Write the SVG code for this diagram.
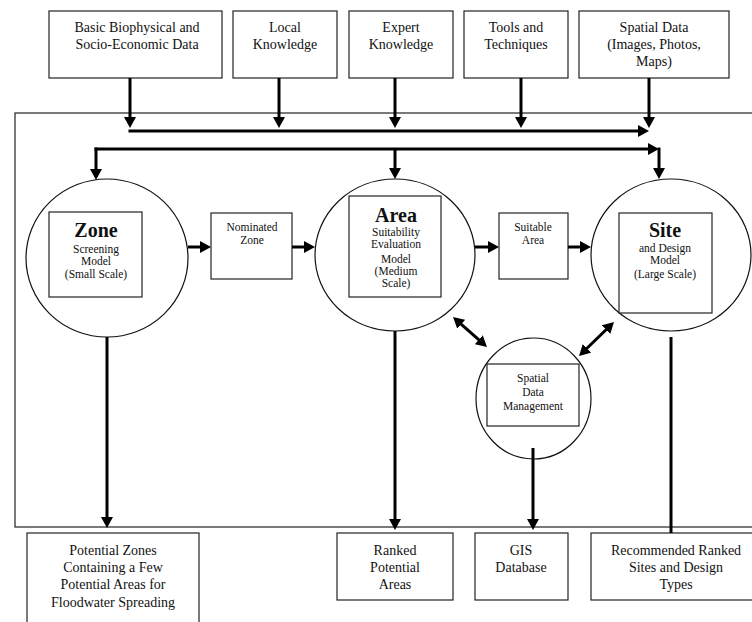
<svg xmlns="http://www.w3.org/2000/svg" width="752" height="622" viewBox="0 0 752 622">
<defs>
<style>
.box{fill:#fff;stroke:#222;stroke-width:1.2}
.circ{fill:#fff;stroke:#111;stroke-width:1.2}
.thin{fill:none;stroke:#222;stroke-width:1.2}
.arr{fill:none;stroke:#000;stroke-width:3;marker-end:url(#ah)}
.dbl{fill:none;stroke:#000;stroke-width:3;marker-start:url(#ah);marker-end:url(#ah)}
.ln{fill:none;stroke:#000;stroke-width:3}
text{font-family:"Liberation Serif","Times New Roman",serif;fill:#111;text-anchor:middle}
.big{font-size:14px}
.sm{font-size:11.5px}
.ttl{font-size:20px;font-weight:bold}
</style>
<marker id="ah" viewBox="0 0 11 12" refX="1" refY="6" markerWidth="11" markerHeight="12" markerUnits="userSpaceOnUse" orient="auto-start-reverse">
<path d="M0,0 L11,6 L0,12 z" fill="#000"/>
</marker>
</defs>
<rect width="752" height="622" fill="#fff"/>
<rect id="frame" class="thin" x="15" y="113" width="750" height="414"/>

<g id="n-basic"><rect class="box" x="49" y="11" width="173" height="67"/>
<text class="big" x="137" y="32">Basic Biophysical and</text><text class="big" x="137" y="49">Socio-Economic Data</text></g>
<g id="n-local"><rect class="box" x="233" y="11" width="104" height="67"/>
<text class="big" x="285" y="32">Local</text><text class="big" x="285" y="49">Knowledge</text></g>
<g id="n-expert"><rect class="box" x="349" y="11" width="104" height="67"/>
<text class="big" x="401" y="32">Expert</text><text class="big" x="401" y="49">Knowledge</text></g>
<g id="n-tools"><rect class="box" x="464" y="11" width="104" height="67"/>
<text class="big" x="516" y="32">Tools and</text><text class="big" x="516" y="49">Techniques</text></g>
<g id="n-spatial"><rect class="box" x="579" y="11" width="150" height="67"/>
<text class="big" x="654" y="32">Spatial Data</text><text class="big" x="654" y="49">(Images, Photos,</text><text class="big" x="654" y="66">Maps)</text></g>

<g id="n-zone"><ellipse class="circ" cx="107" cy="258" rx="81" ry="79"/>
<rect class="box" x="49" y="212" width="93" height="85"/>
<text class="ttl" x="96" y="237">Zone</text>
<text class="sm" x="96" y="253">Screening</text><text class="sm" x="96" y="265">Model</text><text class="sm" x="96" y="278">(Small Scale)</text></g>

<g id="n-nominated"><rect class="box" x="211" y="213" width="81" height="66"/>
<text class="sm" x="252" y="231">Nominated</text><text class="sm" x="252" y="244">Zone</text></g>

<g id="n-area"><ellipse class="circ" cx="395" cy="255" rx="80" ry="76"/>
<rect class="box" x="349" y="196" width="92" height="101"/>
<text class="ttl" x="396" y="222">Area</text>
<text class="sm" x="396" y="236">Suitability</text><text class="sm" x="396" y="248">Evaluation</text><text class="sm" x="396" y="263">Model</text><text class="sm" x="396" y="275">(Medium</text><text class="sm" x="396" y="287">Scale)</text></g>

<g id="n-suitable"><rect class="box" x="499" y="213" width="69" height="66"/>
<text class="sm" x="533" y="231">Suitable</text><text class="sm" x="533" y="244">Area</text></g>

<g id="n-site"><ellipse class="circ" cx="671" cy="255" rx="80" ry="76"/>
<rect class="box" x="619" y="213" width="93" height="100"/>
<text class="ttl" x="665" y="237">Site</text>
<text class="sm" x="665" y="252">and Design</text><text class="sm" x="665" y="264">Model</text><text class="sm" x="665" y="278">(Large Scale)</text></g>

<g id="n-sdm"><ellipse class="circ" cx="533.5" cy="398.5" rx="57.5" ry="60.5"/>
<rect class="box" x="487" y="364" width="92" height="62"/>
<text class="sm" x="533" y="382">Spatial</text><text class="sm" x="533" y="396">Data</text><text class="sm" x="533" y="410">Management</text></g>

<g id="n-potzones"><rect class="box" x="27" y="533" width="172" height="100"/>
<text class="big" x="113" y="555">Potential Zones</text><text class="big" x="113" y="572">Containing a Few</text><text class="big" x="113" y="589">Potential Areas for</text><text class="big" x="113" y="607">Floodwater Spreading</text></g>
<g id="n-ranked"><rect class="box" x="337" y="533" width="116" height="67"/>
<text class="big" x="395" y="555">Ranked</text><text class="big" x="395" y="572">Potential</text><text class="big" x="395" y="589">Areas</text></g>
<g id="n-gis"><rect class="box" x="475" y="533" width="93" height="67"/>
<text class="big" x="521" y="555">GIS</text><text class="big" x="521" y="572">Database</text></g>
<g id="n-recommended"><rect class="box" x="591" y="533" width="170" height="67"/>
<text class="big" x="676" y="555">Recommended Ranked</text><text class="big" x="676" y="572">Sites and Design</text><text class="big" x="676" y="589">Types</text></g>

<g id="connectors">
<line class="arr" x1="130" y1="78" x2="130" y2="118"/>
<line class="arr" x1="279" y1="78" x2="279" y2="118"/>
<line class="arr" x1="395" y1="78" x2="395" y2="118"/>
<line class="arr" x1="521" y1="78" x2="521" y2="118"/>
<line class="arr" x1="649" y1="78" x2="649" y2="118"/>
<line class="arr" x1="128.5" y1="131" x2="639" y2="131"/>
<line class="arr" x1="94.5" y1="149" x2="649" y2="149"/>
<line class="arr" x1="96" y1="147.5" x2="96" y2="170"/>
<line class="arr" x1="395" y1="149" x2="395" y2="169"/>
<line class="arr" x1="659" y1="147.5" x2="659" y2="169"/>
<line class="arr" x1="188" y1="247" x2="201" y2="247"/>
<line class="arr" x1="292" y1="247" x2="305" y2="247"/>
<line class="arr" x1="475" y1="247" x2="489" y2="247"/>
<line class="arr" x1="568" y1="247" x2="581" y2="247"/>
<line class="dbl" x1="460.5" y1="323.6" x2="479.5" y2="340.4"/>
<line class="dbl" x1="606.8" y1="329" x2="586.2" y2="349"/>
<line class="arr" x1="107" y1="337" x2="107" y2="518"/>
<line class="arr" x1="395" y1="331" x2="395" y2="520"/>
<line class="arr" x1="533" y1="448" x2="533" y2="520"/>
<line class="ln" x1="671" y1="337" x2="671" y2="533"/>
</g>
</svg>
